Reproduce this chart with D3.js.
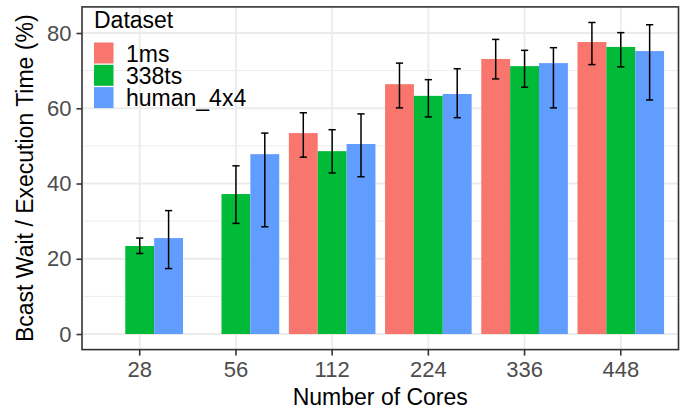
<!DOCTYPE html>
<html>
<head>
<meta charset="utf-8">
<script src="https://cdn.jsdelivr.net/npm/d3@7"></script>
<style>
  body { margin: 0; background: #fff; }
  text { font-family: "Liberation Sans", Arial, Helvetica, sans-serif; }
</style>
</head>
<body>
<div id="plot"></div>
<script>
const cores = ["28", "56", "112", "224", "336", "448"];
const datasets = ["1ms", "338ts", "human_4x4"];

// mean wait share, with error bar ends (null = no run)
const ms1 = [null, null, 53.4, 66.4, 73.1, 77.6];
const ms1Lo = [null, null, 47.0, 60.1, 67.8, 71.6];
const ms1Hi = [null, null, 58.8, 72.0, 78.3, 82.8];

const ts338 = [23.4, 37.2, 48.6, 63.3, 71.2, 76.3];
const ts338Lo = [21.4, 29.4, 42.8, 57.7, 65.6, 71.0];
const ts338Hi = [25.5, 44.7, 54.3, 67.6, 75.4, 80.1];

const human = [25.5, 47.8, 50.5, 63.8, 72.0, 75.2];
const humanLo = [17.4, 28.5, 41.8, 57.5, 60.1, 62.2];
const humanHi = [32.8, 53.4, 58.5, 70.5, 76.1, 82.2];

const yTicks = [0, 20, 40, 60, 80];
const yMinor = [10, 30, 50, 70];

const colors = ["#F8766D", "#00BA38", "#619CFF"];

const W = 686, H = 410;
const panel = { left: 82, right: 678.5, top: 6.9, bottom: 349.6 };

const series = [
  { name: datasets[0], vals: ms1, lo: ms1Lo, hi: ms1Hi },
  { name: datasets[1], vals: ts338, lo: ts338Lo, hi: ts338Hi },
  { name: datasets[2], vals: human, lo: humanLo, hi: humanHi }
];

const rows = [];
series.forEach(s => {
  cores.forEach((c, i) => {
    if (s.vals[i] != null) rows.push({ core: c, set: s.name, v: s.vals[i], lo: s.lo[i], hi: s.hi[i] });
  });
});

const yMax = d3.max(rows, d => d.hi);
const pad = yMax * 0.05;

const x = d3.scaleBand()
  .domain(cores)
  .range([panel.left, panel.right])
  .paddingInner(0.1)
  .paddingOuter(0.15);

const xSub = d3.scaleBand()
  .domain(datasets)
  .range([0, x.bandwidth()]);

const y = d3.scaleLinear()
  .domain([-pad, yMax + pad])
  .range([panel.bottom, panel.top]);

const color = d3.scaleOrdinal().domain(datasets).range(colors);

const svg = d3.select("#plot")
  .append("svg")
  .attr("width", W)
  .attr("height", H);

// grid
const grid = svg.append("g");
grid.selectAll(".minor")
  .data(yMinor)
  .join("line")
  .attr("x1", panel.left).attr("x2", panel.right)
  .attr("y1", d => y(d)).attr("y2", d => y(d))
  .attr("stroke", "#EBEBEB").attr("stroke-width", 0.9);
grid.selectAll(".major")
  .data(yTicks)
  .join("line")
  .attr("x1", panel.left).attr("x2", panel.right)
  .attr("y1", d => y(d)).attr("y2", d => y(d))
  .attr("stroke", "#EBEBEB").attr("stroke-width", 1.8);
grid.selectAll(".vmajor")
  .data(cores)
  .join("line")
  .attr("x1", d => x(d) + x.bandwidth() / 2).attr("x2", d => x(d) + x.bandwidth() / 2)
  .attr("y1", panel.top).attr("y2", panel.bottom)
  .attr("stroke", "#EBEBEB").attr("stroke-width", 1.8);

// bars
svg.append("g")
  .selectAll("rect")
  .data(rows)
  .join("rect")
  .attr("x", d => x(d.core) + xSub(d.set))
  .attr("width", xSub.bandwidth())
  .attr("y", d => y(d.v))
  .attr("height", d => y(0) - y(d.v))
  .attr("fill", d => color(d.set));

// error bars
const capW = xSub.bandwidth() * 0.25;
const err = svg.append("g")
  .attr("stroke", "#000")
  .attr("stroke-width", 1.5);
rows.forEach(d => {
  const cx = x(d.core) + xSub(d.set) + xSub.bandwidth() / 2;
  err.append("line").attr("x1", cx).attr("x2", cx).attr("y1", y(d.lo)).attr("y2", y(d.hi));
  err.append("line").attr("x1", cx - capW / 2).attr("x2", cx + capW / 2).attr("y1", y(d.lo)).attr("y2", y(d.lo));
  err.append("line").attr("x1", cx - capW / 2).attr("x2", cx + capW / 2).attr("y1", y(d.hi)).attr("y2", y(d.hi));
});

// panel border
svg.append("rect")
  .attr("x", panel.left).attr("y", panel.top)
  .attr("width", panel.right - panel.left)
  .attr("height", panel.bottom - panel.top)
  .attr("fill", "none")
  .attr("stroke", "#333333")
  .attr("stroke-width", 1.6);

// axes
const yAxis = svg.append("g")
  .attr("transform", `translate(${panel.left},0)`)
  .call(d3.axisLeft(y).tickValues(yTicks).tickSize(5.5).tickPadding(5));
const xAxis = svg.append("g")
  .attr("transform", `translate(0,${panel.bottom})`)
  .call(d3.axisBottom(x).tickSize(6).tickPadding(6));

[yAxis, xAxis].forEach(a => {
  a.select(".domain").remove();
  a.selectAll(".tick line").attr("stroke", "#333333").attr("stroke-width", 1.6);
  a.selectAll(".tick text")
    .attr("fill", "#4D4D4D")
    .style("font-size", "22px")
    .style("font-family", '"Liberation Sans", Arial, sans-serif');
});

// axis titles
svg.append("text")
  .attr("x", (panel.left + panel.right) / 2)
  .attr("y", 405)
  .attr("text-anchor", "middle")
  .style("font-size", "23px")
  .text("Number of Cores");

svg.append("text")
  .attr("transform", `translate(33,${(panel.top + panel.bottom) / 2}) rotate(-90)`)
  .attr("text-anchor", "middle")
  .style("font-size", "23px")
  .text("Bcast Wait / Execution Time (%)");

// legend
const legend = svg.append("g").attr("transform", "translate(94,0)");
legend.append("text")
  .attr("x", 0).attr("y", 28)
  .style("font-size", "23px")
  .text("Dataset");
const item = legend.selectAll(".item")
  .data(datasets)
  .join("g")
  .attr("transform", (d, i) => `translate(0,${42.5 + i * 22.3})`);
item.append("rect")
  .attr("width", 19.5).attr("height", 21)
  .attr("fill", d => color(d));
item.append("text")
  .attr("x", 32).attr("y", 19)
  .style("font-size", "23px")
  .text(d => d);
</script>
</body>
</html>
